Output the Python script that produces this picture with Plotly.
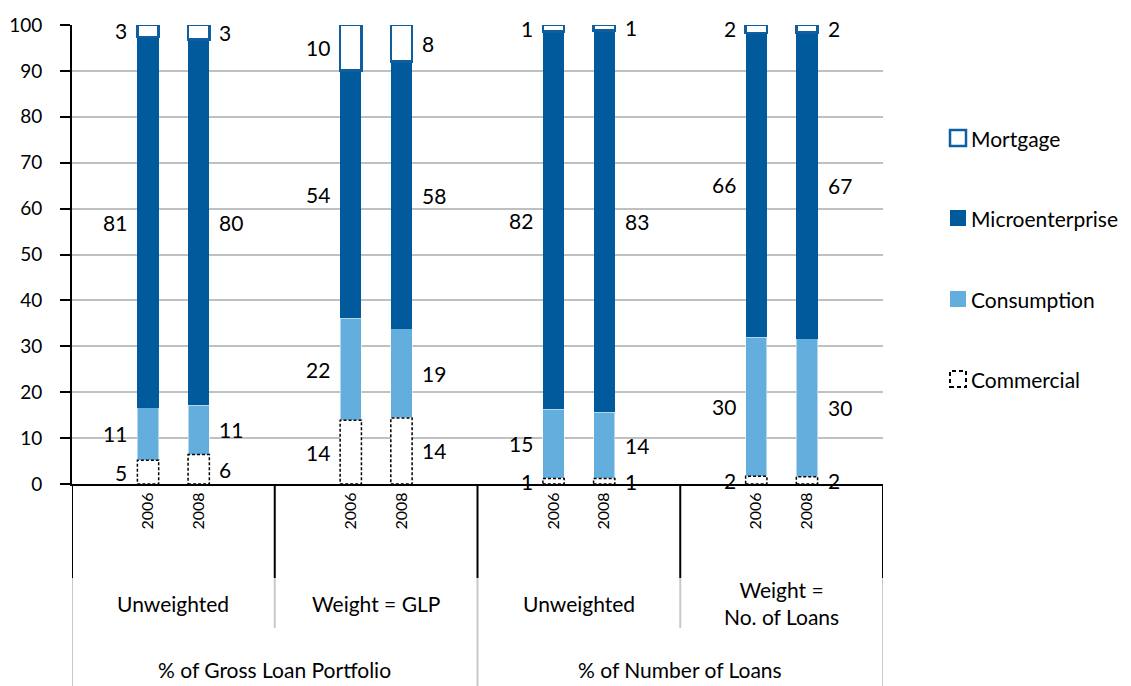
import plotly.graph_objects as go

# ---------------- data ----------------
groups = ["Unweighted", "Weight = GLP", "Unweighted", "Weight =<br>No. of Loans"]
supergroups = ["% of Gross Loan Portfolio", "% of Number of Loans"]
years = ["2006", "2008", "2006", "2008", "2006", "2008", "2006", "2008"]
commercial = [5.2, 6.4, 13.9, 14.4, 1.2, 1.2, 1.7, 1.6]
consumption = [11.4, 10.8, 22.2, 19.4, 15.1, 14.4, 30.3, 30.0]
microenterprise = [80.8, 79.6, 54.0, 58.3, 82.3, 83.2, 66.3, 66.8]
mortgage = [2.6, 3.2, 9.9, 7.9, 1.4, 1.2, 1.7, 1.6]
y_ticks = [0, 10, 20, 30, 40, 50, 60, 70, 80, 90, 100]

# ---------------- styling ----------------
FONT = "Lato"
FS = 21
C_MICRO = "#005A9C"
C_CONS = "#63AEDC"
C_MORT = "#0F5FA0"
C_GRID = "#C0C0C0"
C_SEP = "#C8C8C8"
BAR_W = 0.105
OFFS = 0.125

xpos = []
for g in range(len(groups)):
    xpos += [g - OFFS, g + OFFS]

fig = go.Figure()
fig.add_trace(go.Bar(x=xpos, y=commercial, width=BAR_W, name="Commercial",
                     marker=dict(color="white", line=dict(width=0)), showlegend=False))
fig.add_trace(go.Bar(x=xpos, y=consumption, width=BAR_W, name="Consumption",
                     marker=dict(color=C_CONS, line=dict(color="white", width=0.5)), showlegend=False))
fig.add_trace(go.Bar(x=xpos, y=microenterprise, width=BAR_W, name="Microenterprise",
                     marker=dict(color=C_MICRO, line=dict(width=0)), showlegend=False))
fig.add_trace(go.Bar(x=xpos, y=mortgage, width=BAR_W, name="Mortgage",
                     marker=dict(color="white", line=dict(color=C_MORT, width=2.5)), showlegend=False))

shapes = []
annotations = []

# dashed outline for commercial segments
for x, v in zip(xpos, commercial):
    shapes.append(dict(type="rect", xref="x", yref="y", x0=x - BAR_W / 2, x1=x + BAR_W / 2,
                       y0=0, y1=v, line=dict(color="black", width=1.5, dash="3px,2px"),
                       fillcolor="rgba(0,0,0,0)", layer="above"))

# data labels
series = [commercial, consumption, microenterprise, mortgage]
for i, x in enumerate(xpos):
    base = 0
    left = (i % 2 == 0)
    for s in series:
        v = s[i]
        mid = base + v / 2
        base += v
        annotations.append(dict(
            x=x - BAR_W / 2 if left else x + BAR_W / 2, y=mid, xref="x", yref="y",
            text=f"{v:.0f}", showarrow=False,
            xanchor="right" if left else "left", xshift=-8 if left else 8,
            font=dict(family=FONT, size=FS, color="black")))

# category separators (plot area is 811 x 459 px)
Y_BLACK = (484 - 578) / 459
Y_MID = (484 - 628) / 459
Y_BOT = (484 - 690) / 459
for b in [-0.5, 0.5, 1.5, 2.5, 3.5]:
    shapes.append(dict(type="line", xref="x", yref="paper", x0=b, x1=b, y0=0, y1=Y_BLACK,
                       line=dict(color="black", width=2)))
for b in [0.5, 2.5]:
    shapes.append(dict(type="line", xref="x", yref="paper", x0=b, x1=b, y0=Y_BLACK, y1=Y_MID,
                       line=dict(color=C_SEP, width=2)))
for b in [-0.5, 1.5, 3.5]:
    shapes.append(dict(type="line", xref="x", yref="paper", x0=b, x1=b, y0=Y_BLACK, y1=Y_BOT,
                       line=dict(color=C_SEP, width=2)))

for g, name in enumerate(groups):
    annotations.append(dict(x=g, y=(484 - 603) / 459, xref="x", yref="paper", text=name,
                            showarrow=False, xanchor="center", yanchor="middle",
                            font=dict(family=FONT, size=FS, color="black")))
for k, name in enumerate(supergroups):
    annotations.append(dict(x=2 * k + 0.5, y=(484 - 669) / 459, xref="x", yref="paper", text=name,
                            showarrow=False, xanchor="center", yanchor="middle",
                            font=dict(family=FONT, size=FS, color="black")))

# custom legend
leg = [("Mortgage", "white", dict(color=C_MORT, width=2.5), 138, 16),
       ("Microenterprise", C_MICRO, dict(width=0), 218, 16),
       ("Consumption", C_CONS, dict(width=0), 299, 16),
       ("Commercial", "white", dict(color="black", width=2, dash="4px,3px"), 379, 16)]
for name, fill, line, py, sz in leg:
    yp = (484 - py) / 459
    shapes.append(dict(type="rect", xref="paper", yref="paper", xsizemode="pixel", ysizemode="pixel",
                       xanchor=(958 - 72) / 811, yanchor=yp, x0=-sz / 2, x1=sz / 2, y0=-sz / 2, y1=sz / 2,
                       fillcolor=fill, line=line))
    annotations.append(dict(x=(969 - 72) / 811, y=yp, xref="paper", yref="paper", text=name,
                            showarrow=False, xanchor="left", yanchor="middle",
                            font=dict(family=FONT, size=FS, color="black")))

# the page body adds an 8px margin, so the figure is 8px smaller and shifted
fig.update_layout(
    barmode="stack",
    width=1123, height=678,
    margin=dict(l=64, r=248, t=17, b=202, autoexpand=False),
    plot_bgcolor="white", paper_bgcolor="white",
    font=dict(family=FONT, size=FS, color="black"),
    shapes=shapes, annotations=annotations,
    xaxis=dict(range=[-0.5, 3.5], tickmode="array", tickvals=xpos, ticktext=years,
               tickangle=-90, tickfont=dict(family=FONT, size=16, color="black"),
               showgrid=False, zeroline=False, showline=True, linecolor="black", linewidth=2,
               ticks="", automargin=False),
    yaxis=dict(range=[0, 100], tickmode="array", tickvals=y_ticks,
               tickfont=dict(family=FONT, size=19, color="black"),
               showgrid=True, gridcolor=C_GRID, gridwidth=2, zeroline=False,
               showline=True, linecolor="black", linewidth=2,
               ticks="outside", ticklen=10, tickwidth=2, tickcolor="black",
               ticklabelstandoff=14, automargin=False),
)

fig.write_html("out.html")
